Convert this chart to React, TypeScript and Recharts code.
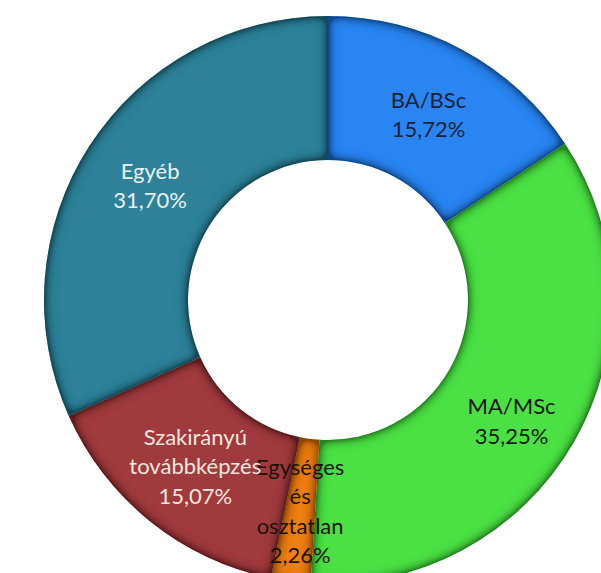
import React from 'react';
import { PieChart, Pie, Cell } from 'recharts';

// share of graduates by training type (%)
const categories = ['BA/BSc', 'MA/MSc', 'Egységes és osztatlan', 'Szakirányú továbbképzés', 'Egyéb'];
const labelLines = [['BA/BSc'], ['MA/MSc'], ['Egységes', 'és', 'osztatlan'], ['Szakirányú', 'továbbképzés'], ['Egyéb']];
const shares = [15.72, 35.25, 2.26, 15.07, 31.7];

const COLORS = ['#2B84F2', '#4BE144', '#EE7E16', '#A03A3C', '#2E8199'];
const LABEL_COLORS = ['#1B2238', '#101810', '#1A1208', '#F3E6DE', '#EAF2F4'];

const data = categories.map((name, i) => ({ name, value: shares[i] }));

const RADIAN = Math.PI / 180;
const fmt = (v: number) => v.toFixed(2).replace('.', ',') + '%';

const renderLabel = (props: any) => {
  const { cx, cy, midAngle, innerRadius, outerRadius, index } = props;
  const r = (innerRadius + outerRadius) / 2;
  const x = cx + r * Math.cos(-midAngle * RADIAN);
  const y = cy + r * Math.sin(-midAngle * RADIAN) + (index === 1 ? 14 : 0);
  const lines = [...labelLines[index], fmt(shares[index])];
  const lh = 29.5;
  const top = y - ((lines.length - 1) * lh) / 2;
  return (
    <text
      x={x}
      y={top}
      fill={LABEL_COLORS[index]}
      textAnchor="middle"
      dominantBaseline="central"
      style={{ fontFamily: 'Lato, "Open Sans", sans-serif', fontSize: 22 }}
    >
      {lines.map((l, i) => (
        <tspan key={i} x={x} y={top + i * lh}>
          {l}
        </tspan>
      ))}
    </text>
  );
};

export default function App() {
  return (
    <div style={{ position: 'absolute', left: 0, top: 0, width: 601, height: 573, background: '#fff' }}>
      <PieChart width={601} height={573}>
        <defs>
          <filter id="bevel" x="-10%" y="-10%" width="120%" height="120%">
            <feComponentTransfer in="SourceAlpha" result="inv">
              <feFuncA type="table" tableValues="1 0" />
            </feComponentTransfer>
            <feGaussianBlur in="inv" stdDeviation="6" result="blur" />
            <feComponentTransfer in="blur" result="band">
              <feFuncA type="linear" slope="2.2" intercept="0" />
            </feComponentTransfer>
            <feFlood floodColor="#000" floodOpacity="0.7" />
            <feComposite in2="band" operator="in" result="shadow" />
            <feComposite in="shadow" in2="SourceAlpha" operator="in" result="inner" />
            <feMerge>
              <feMergeNode in="SourceGraphic" />
              <feMergeNode in="inner" />
            </feMerge>
          </filter>
        </defs>
        <Pie
          data={data}
          dataKey="value"
          nameKey="name"
          cx={323}
          cy={295}
          innerRadius={140}
          outerRadius={284}
          startAngle={90}
          endAngle={-270}
          stroke="none"
          labelLine={false}
          label={renderLabel}
          isAnimationActive={false}
        >
          {data.map((d, i) => (
            <Cell key={d.name} fill={COLORS[i]} filter="url(#bevel)" />
          ))}
        </Pie>
      </PieChart>
    </div>
  );
}
